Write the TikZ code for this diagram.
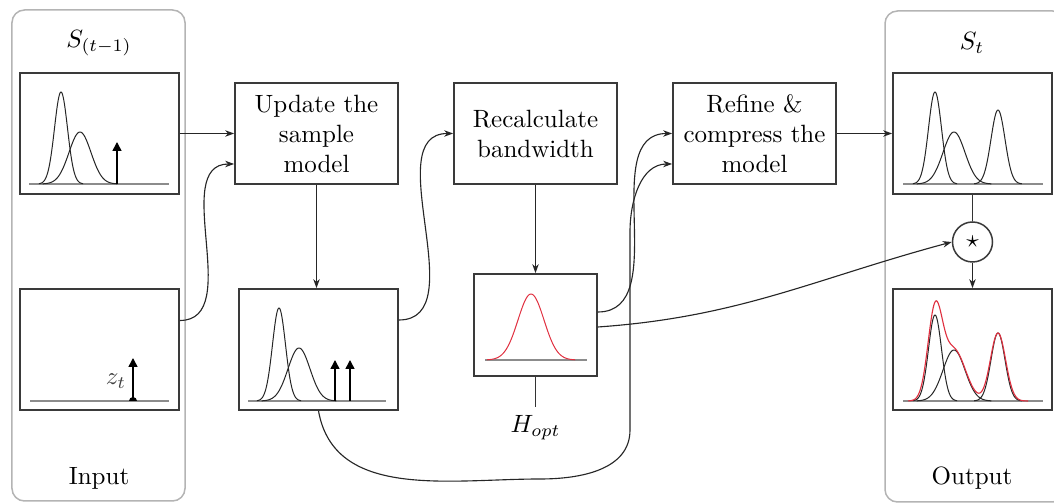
\documentclass[tikz,border=0pt]{standalone}
\usetikzlibrary{arrows.meta}
\definecolor{boxc}{HTML}{3A3A3A}
\definecolor{panelc}{HTML}{B4B4B4}
\definecolor{basec}{HTML}{8C8C8C}
\definecolor{redc}{HTML}{E03040}
\newcommand\mygauss[5][]{%
  \pgfmathsetmacro\gA{#2-3.4*#5}\pgfmathsetmacro\gB{#2+3.4*#5}%
  \draw[curvec,#1] plot[domain=\gA:\gB,samples=70,smooth] (\x,{#3-#4*exp(-((\x-#2)^2)/(2*#5*#5))});}
\tikzset{
  panel/.style={draw=panelc,line width=0.6pt,rounded corners=5pt,fill=white,inner sep=0pt,
     minimum width=69.2pt,minimum height=196.4pt},
  plotbox/.style={draw=boxc,line width=0.7pt,inner sep=0pt,minimum width=63.6pt,minimum height=48.4pt},
  smallplot/.style={draw=boxc,line width=0.7pt,inner sep=0pt,minimum width=49.2pt,minimum height=40.8pt},
  proc/.style={draw=boxc,line width=0.7pt,inner sep=0pt,minimum width=65.2pt,minimum height=40.4pt,
     align=center},
  conn/.style={draw=black!85,line width=0.45pt,-{Stealth[length=3.6pt,width=2.6pt]}},
  plainline/.style={draw=black!80,line width=0.45pt},
  curvec/.style={draw=black!85,line width=0.4pt},
  basel/.style={draw=basec,line width=0.6pt},
  delta/.style={draw=black,line width=0.6pt,-{Triangle[length=3.6pt,width=3.6pt]}},
}
\begin{document}
\begin{tikzpicture}[x=0.4pt,y=-0.4pt]
\useasboundingbox (0,0) rectangle (1054,504);
% panels
\node[panel] (inpanel) at (98.5,255.5) {};
\node[panel,minimum width=72pt] (outpanel) at (975,256.5) {};
\node (tin) at (99,43) {$S_{(t-1)}$};
\node (tout) at (972,43) {$S_t$};
\node (lin) at (99,478) {Input};
\node (lout) at (972,478) {Output};
% plot boxes
\node[plotbox] (pA) at (99.5,133.5) {};
\node[plotbox] (pB) at (99.5,349.5) {};
\node[plotbox] (samp) at (318.5,349.5) {};
\node[smallplot] (bw) at (535.5,325) {};
\node[plotbox] (pC) at (972.5,133.5) {};
\node[plotbox] (pD) at (972.5,349.5) {};
% process boxes
\node[proc] (upd) at (316.5,133.5) {Update the\\sample\\model};
\node[proc] (rec) at (535.5,133.5) {Recalculate\\bandwidth};
\node[proc] (ref) at (754.5,133.5) {Refine \&\\compress the\\model};
\node[circle,draw=boxc,line width=0.6pt,minimum size=16pt,inner sep=0pt] (star) at (972.5,242) {$\star$};
\node[anchor=north] (hopt) at (535.5,407) {$H_{opt}$};
% plot A
\draw[basel] (29,184) -- (169,184);
\mygauss{61}{184}{92}{6.5}
\mygauss{80}{184}{52}{11}
\draw[delta] (117,184) -- (117,142);
% plot B
\draw[basel] (30,401) -- (169,401);
\draw[delta] (133,401) -- (133,358);
\fill (133,401) ++(-4,0) arc[start angle=180,end angle=0,radius=1.6pt] -- cycle;
\node[text=black!75] (zt) at (116,381) {$z_t$};
% sample plot
\draw[basel] (248,401) -- (386,401);
\mygauss{279}{401}{93}{6.5}
\mygauss{299}{401}{53}{11}
\draw[delta] (335,401) -- (335,360);
\draw[delta] (350,401) -- (350,360);
% bandwidth plot
\draw[basel] (485,360) -- (587,360);
\mygauss[draw=redc]{531}{360}{66}{13}
% plot C
\draw[basel] (903,184) -- (1043,184);
\mygauss{935}{184}{92}{6.5}
\mygauss{954}{184}{52}{11}
\mygauss{998}{184}{74}{7}
% plot D
\draw[basel] (903,401) -- (1043,401);
\mygauss{935}{401}{86}{6.5}
\mygauss{954}{401}{51}{11}
\mygauss{998}{401}{68}{7}
\draw[draw=redc,line width=0.45pt] plot[domain=908:1028,samples=120,smooth]
  (\x,{401-86*exp(-((\x-935)^2)/(2*7.2*7.2))-51*exp(-((\x-954)^2)/(2*11.5*11.5))-68*exp(-((\x-998)^2)/(2*7.6*7.6))});
% connectors
\draw[conn] (pA.east) -- (upd.west);
\draw[conn] ([yshift=11.6pt]pB.east) to[out=0,in=180] ([yshift=-12.2pt]upd.west);
\draw[conn] (upd.south) -- (upd.south |- samp.north);
\draw[conn] ([yshift=11.8pt]samp.east) to[out=0,in=180] (rec.west);
\draw[conn] (rec.south) -- (bw.north);
\draw[conn] ([yshift=5.2pt]bw.east) to[out=0,in=180] (ref.west);
\coordinate (loopb) at (540,479);
\coordinate (loopr) at (630,430);
\coordinate (loopt) at (630,232);
\draw[conn] (samp.south) to[out=-80,in=180] (loopb) to[out=0,in=-90] (loopr) -- (loopt)
   to[out=90,in=180] ([yshift=-12.2pt]ref.west);
\draw[conn] ([yshift=-0.8pt]bw.east) to[out=4,in=195] (star.west);
\draw[conn] (ref.east) -- (pC.west);
\draw[plainline] (pC.south) -- (star.north);
\draw[conn] (star.south) -- (pD.north);
\draw[plainline] (bw.south) -- (hopt.north);
\end{tikzpicture}
\end{document}
